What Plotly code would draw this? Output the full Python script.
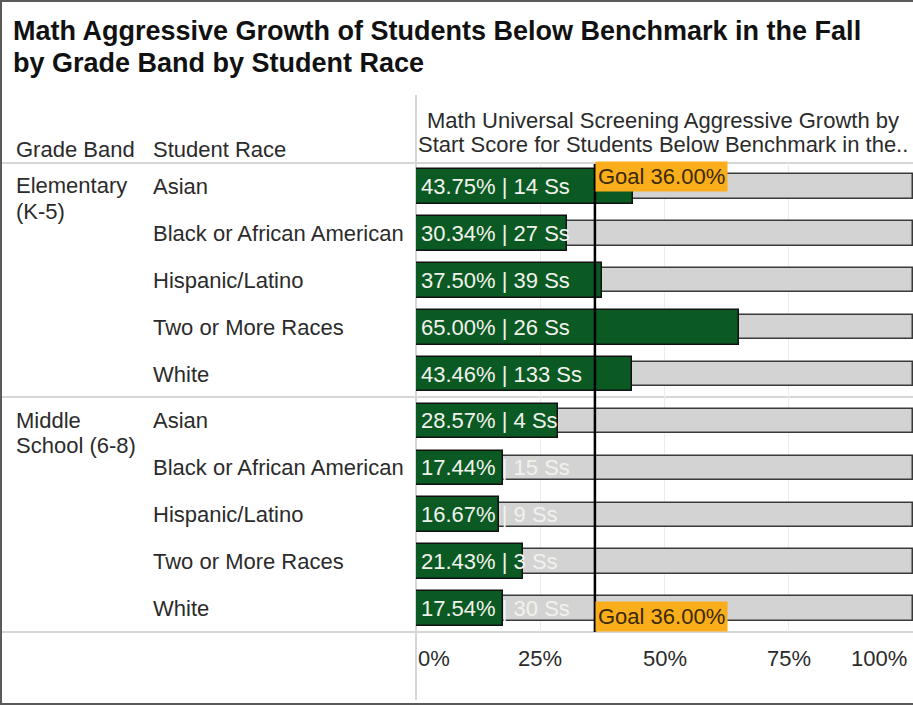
import plotly.graph_objects as go

W, H = 913, 705

grade_bands = [["Elementary", "(K-5)"], ["Middle", "School (6-8)"]]
races = ["Asian", "Black or African American", "Hispanic/Latino", "Two or More Races", "White"]
elem_pct = [43.75, 30.34, 37.50, 65.00, 43.46]
elem_ss = [14, 27, 39, 26, 133]
ms_pct = [28.57, 17.44, 16.67, 21.43, 17.54]
ms_ss = [4, 15, 9, 3, 30]
goal = 36.0
tick_vals = [0, 25, 50, 75, 100]
tick_text = ["0%", "25%", "50%", "75%", "100%"]

title_lines = ["Math Aggressive Growth of Students Below Benchmark in the Fall",
               "by Grade Band by Student Race"]
col_headers = ["Grade Band", "Student Race"]
chart_header = ["Math Universal Screening Aggressive Growth by",
                "Start Score for Students Below Benchmark in the.."]

pct = elem_pct + ms_pct
ss = elem_ss + ms_ss
race_all = races + races
ypos = list(range(len(pct)))

def px(x):
    return x / W

def py(y):
    return 1 - y / H

FONT = "Liberation Sans, Arial, sans-serif"
GREEN = "#0B5A24"
GRAY = "#D3D3D3"
ORANGE = "#FBAE1C"
TXT = "#2b2b2b"
FS = 22

fig = go.Figure()
fig.add_trace(go.Bar(
    x=[100] * len(pct), y=ypos, orientation="h", width=0.52,
    marker=dict(color=GRAY, line=dict(color="#3a3a3a", width=1.5)),
    hoverinfo="skip", showlegend=False))
fig.add_trace(go.Bar(
    x=pct, y=ypos, orientation="h", width=0.74,
    marker=dict(color=GREEN, line=dict(color="#111111", width=1.5)),
    showlegend=False))

x_dom = [px(416), 1.0]
y_dom = [py(632), py(163)]

fig.update_layout(
    width=W, height=H, margin=dict(l=0, r=0, t=0, b=0),
    paper_bgcolor="white", plot_bgcolor="white",
    barmode="overlay", bargap=0,
    font=dict(family=FONT, color=TXT),
    xaxis=dict(domain=x_dom, range=[0, 100], tickvals=tick_vals[1:-1],
               showticklabels=False, showgrid=True, gridcolor="#ECECEC",
               gridwidth=1, zeroline=False, showline=False, fixedrange=True),
    yaxis=dict(domain=y_dom, range=[len(pct) - 0.5, -0.5], visible=False,
               fixedrange=True),
)

ann = []
# title
for i, t in enumerate(title_lines):
    ann.append(dict(text=t, x=px(11), y=py(31 + 32 * i), xref="paper", yref="paper",
                    xanchor="left", yanchor="middle", showarrow=False,
                    font=dict(size=27, color="#111", family=FONT, weight="bold")))
# column headers
for t, x in zip(col_headers, [14, 151]):
    ann.append(dict(text=t, x=px(x), y=py(150), xref="paper", yref="paper",
                    xanchor="left", yanchor="middle", showarrow=False,
                    font=dict(size=FS, color=TXT)))
for i, t in enumerate(chart_header):
    ann.append(dict(text=t, x=px(663), y=py(120 + 25 * i), xref="paper", yref="paper",
                    xanchor="center", yanchor="middle", showarrow=False,
                    font=dict(size=FS, color=TXT)))
# grade bands
for lines, y0 in zip(grade_bands, [186, 420]):
    for j, t in enumerate(lines):
        ann.append(dict(text=t, x=px(14), y=py(y0 + 25 * j), xref="paper", yref="paper",
                        xanchor="left", yanchor="middle", showarrow=False,
                        font=dict(size=FS, color=TXT)))
# race labels and bar labels
for i, (r, p, s) in enumerate(zip(race_all, pct, ss)):
    ann.append(dict(text=r, x=px(151), y=i, xref="paper", yref="y",
                    xanchor="left", yanchor="middle", showarrow=False,
                    font=dict(size=FS, color=TXT)))
    ann.append(dict(text=f"{p:.2f}% | {s} Ss", x=0, y=i, xref="x", yref="y",
                    xanchor="left", yanchor="middle", xshift=3, showarrow=False,
                    font=dict(size=FS, color="#F2F2EC")))
# goal labels
for yy in [176.5, 616.5]:
    ann.append(dict(text=f"Goal {goal:.2f}%", x=goal, y=py(yy), xref="x", yref="paper",
                    xanchor="left", yanchor="middle", showarrow=False, xshift=0,
                    bgcolor=ORANGE, borderpad=2,
                    font=dict(size=FS, color="#3a2a00")))
# tick labels
for v, t in zip(tick_vals, tick_text):
    anchor = "left" if v == 0 else ("right" if v == 100 else "center")
    ann.append(dict(text=t, x=v, y=py(658), xref="x", yref="paper",
                    xanchor=anchor, yanchor="middle", showarrow=False,
                    xshift=0 if v != 100 else -4,
                    font=dict(size=FS, color=TXT)))
fig.update_layout(annotations=ann)

shapes = []
LINE = "#D6D6D6"
for yy in [163, 397, 632]:
    shapes.append(dict(type="line", xref="paper", yref="paper", x0=0, x1=1,
                       y0=py(yy), y1=py(yy), line=dict(color=LINE, width=2), layer="below"))
shapes.append(dict(type="line", xref="paper", yref="paper", x0=px(416), x1=px(416),
                   y0=py(95), y1=py(700), line=dict(color=LINE, width=2), layer="below"))
# goal line
shapes.append(dict(type="line", xref="x", yref="paper", x0=goal, x1=goal,
                   y0=py(164), y1=py(632), line=dict(color="black", width=2.5)))
# frame
FR = "#5a5a5a"
shapes.append(dict(type="line", xref="paper", yref="paper", x0=0, x1=1, y0=py(1), y1=py(1),
                   line=dict(color=FR, width=2)))
shapes.append(dict(type="line", xref="paper", yref="paper", x0=px(1), x1=px(1), y0=0, y1=1,
                   line=dict(color=FR, width=2)))
shapes.append(dict(type="line", xref="paper", yref="paper", x0=0, x1=1, y0=py(704), y1=py(704),
                   line=dict(color=FR, width=2)))
fig.update_layout(shapes=shapes)

fig.write_html("out.html", config={"displayModeBar": False},
               post_script="document.body.style.margin='0px';document.body.style.padding='0px';")
